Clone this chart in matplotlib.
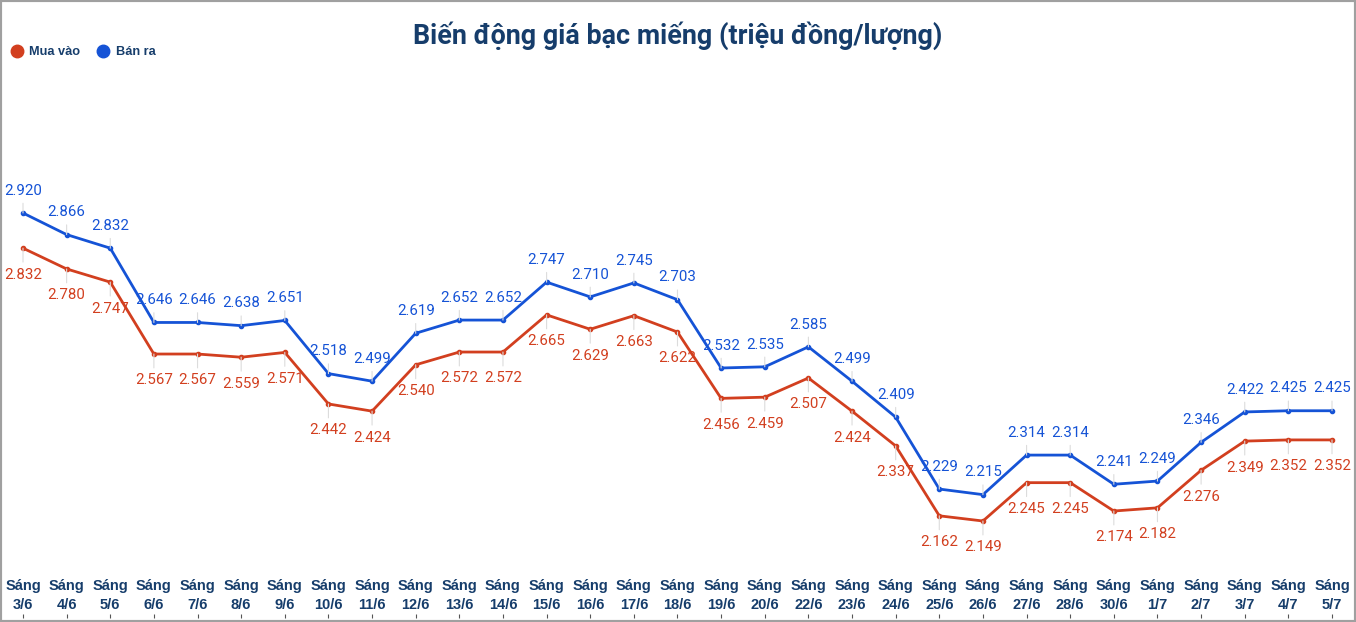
import matplotlib
matplotlib.use("Agg")
import matplotlib.pyplot as plt
from matplotlib.lines import Line2D
from matplotlib.patches import Rectangle

# data
dates = ["3/6", "4/6", "5/6", "6/6", "7/6", "8/6", "9/6", "10/6", "11/6", "12/6",
         "13/6", "14/6", "15/6", "16/6", "17/6", "18/6", "19/6", "20/6", "22/6", "23/6",
         "24/6", "25/6", "26/6", "27/6", "28/6", "30/6", "1/7", "2/7", "3/7", "4/7", "5/7"]
ban_ra = [2.920, 2.866, 2.832, 2.646, 2.646, 2.638, 2.651, 2.518, 2.499, 2.619,
          2.652, 2.652, 2.747, 2.710, 2.745, 2.703, 2.532, 2.535, 2.585, 2.499,
          2.409, 2.229, 2.215, 2.314, 2.314, 2.241, 2.249, 2.346, 2.422, 2.425, 2.425]
mua_vao = [2.832, 2.780, 2.747, 2.567, 2.567, 2.559, 2.571, 2.442, 2.424, 2.540,
           2.572, 2.572, 2.665, 2.629, 2.663, 2.622, 2.456, 2.459, 2.507, 2.424,
           2.337, 2.162, 2.149, 2.245, 2.245, 2.174, 2.182, 2.276, 2.349, 2.352, 2.352]

RED = "#d23f1f"
BLUE = "#1553d6"
NAVY = "#163d6b"

fig = plt.figure(figsize=(13.56, 6.22), dpi=100)
ax = fig.add_axes([0, 4 / 622, 1, 518 / 622])

x = list(range(len(dates)))
ax.plot(x, mua_vao, color=RED, lw=2, marker="o", ms=3)
ax.plot(x, ban_ra, color=BLUE, lw=2, marker="o", ms=3)

ax.set_xlim(-0.527, 30.55)
ax.set_ylim(1.9062, 3.2029)

leader = dict(arrowstyle="-", color="#dcdcdc", lw=0.8, shrinkA=2, shrinkB=0)
for i in x:
    ax.annotate(f"{ban_ra[i]:.3f}", (i, ban_ra[i]), xytext=(0, 11), textcoords="offset points",
                ha="center", va="bottom", color=BLUE, fontsize=10.8, family="Roboto",
                arrowprops=leader)
    ax.annotate(f"{mua_vao[i]:.3f}", (i, mua_vao[i]), xytext=(0, -14), textcoords="offset points",
                ha="center", va="top", color=RED, fontsize=10.8, family="Roboto",
                arrowprops=leader)

ax.set_xticks(x)
ax.set_xticklabels([f"Sáng\n{d}" for d in dates], fontsize=10.5, fontweight="bold",
                   color=NAVY, family="Liberation Sans", linespacing=1.4)
ax.tick_params(axis="x", direction="in", length=3, color="#555555", pad=-28)
ax.set_yticks([])
for s in ax.spines.values():
    s.set_visible(False)

fig.text(0.5, 1 - 36 / 622, "Biến động giá bạc miếng (triệu đồng/lượng)", ha="center", va="center",
         fontsize=19.4, fontweight="bold", color=NAVY, family="Roboto")

handles = [Line2D([], [], ls="none", marker="o", ms=9, color=RED),
           Line2D([], [], ls="none", marker="o", ms=9, color=BLUE)]
fig.legend(handles, ["Mua vào", "Bán ra"], loc="center left", bbox_to_anchor=(-0.001, 1 - 52 / 622),
           ncol=2, frameon=False, handletextpad=0.5, columnspacing=1.3, handlelength=1.0,
           prop=dict(family="Liberation Sans", weight="bold", size=9.2), labelcolor=NAVY)

fig.patches.append(Rectangle((0, 0), 1, 1, transform=fig.transFigure, fill=False,
                             edgecolor="#a0a0a0", lw=3))

plt.savefig("out.png", dpi=100)
